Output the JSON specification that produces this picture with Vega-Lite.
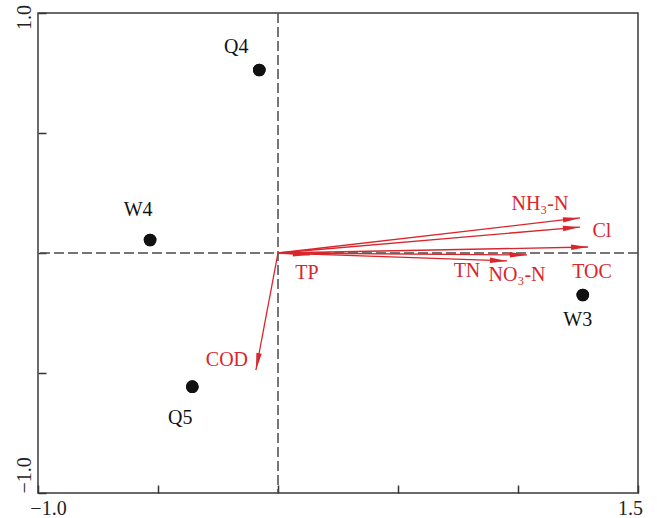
{
  "$schema": "https://vega.github.io/schema/vega-lite/v6.json",
  "width": 600,
  "height": 480,
  "autosize": {"type": "none"},
  "padding": {"left": 38, "top": 13, "right": 19, "bottom": 25},
  "background": "white",
  "config": {
    "view": {"stroke": "#3a3a3a", "strokeWidth": 1.5},
    "font": "Liberation Serif"
  },
  "datasets": {
    "sites": [
      {"site": "Q4", "x": -0.078, "y": 0.7625},
      {"site": "W4", "x": -0.533, "y": 0.054},
      {"site": "Q5", "x": -0.357, "y": -0.557},
      {"site": "W3", "x": 1.27, "y": -0.175}
    ],
    "vars": [
      {"var": "NH₃-N", "x": 1.258, "y": 0.146},
      {"var": "Cl", "x": 1.258, "y": 0.108},
      {"var": "TOC", "x": 1.292, "y": 0.025},
      {"var": "NO₃-N", "x": 1.0375, "y": -0.008},
      {"var": "TN", "x": 0.954, "y": -0.033},
      {"var": "TP", "x": 0.133, "y": -0.008},
      {"var": "COD", "x": -0.092, "y": -0.4875}
    ],
    "origin": [{"ref": 0}]
  },
  "layer": [
    {
      "data": {"name": "sites"},
      "mark": {"type": "circle", "color": "#111", "size": 160, "opacity": 1},
      "encoding": {
        "x": {
          "field": "x", "type": "quantitative",
          "scale": {"domain": [-1, 1.5], "nice": false, "zero": false},
          "axis": {
            "values": [-1, -0.5, 0, 0.5, 1, 1.5],
            "format": ".1f",
            "labelExpr": "datum.value == -1 || datum.value == 1.5 ? datum.label : ''",
            "title": null, "domain": false, "grid": false,
            "tickSize": -8, "tickColor": "#333", "tickWidth": 1.5,
            "labelFont": "Liberation Serif", "labelFontSize": 20, "labelColor": "#222",
            "labelPadding": 13, "labelBaseline": "top", "labelAlign": "center",
            "labelOffset": {"condition": {"test": "datum.value < 0", "value": 10}, "value": -8}
          }
        },
        "y": {
          "field": "y", "type": "quantitative",
          "scale": {"domain": [-1, 1], "nice": false, "zero": false},
          "axis": {
            "values": [-1, -0.5, 0, 0.5, 1],
            "format": ".1f",
            "labelExpr": "datum.value == -1 || datum.value == 1 ? datum.label : ''",
            "title": null, "domain": false, "grid": false,
            "tickSize": -8, "tickColor": "#333", "tickWidth": 1.5,
            "labelFont": "Liberation Serif", "labelFontSize": 20, "labelColor": "#222",
            "labelAngle": 270, "labelPadding": 16, "labelBaseline": "alphabetic",
            "labelAlign": {"condition": {"test": "datum.value < 0", "value": "left"}, "value": "center"},
            "labelOffset": {"condition": {"test": "datum.value > 0", "value": 4}, "value": 0}
          }
        }
      }
    },
    {
      "data": {"name": "origin"},
      "mark": {"type": "rule", "color": "#4a4a4a", "strokeWidth": 1.5, "strokeDash": [10, 4]},
      "encoding": {"x": {"field": "ref", "type": "quantitative"}}
    },
    {
      "data": {"name": "origin"},
      "mark": {"type": "rule", "color": "#4a4a4a", "strokeWidth": 1.5, "strokeDash": [10, 4]},
      "encoding": {"y": {"field": "ref", "type": "quantitative"}}
    },
    {
      "data": {"name": "vars"},
      "mark": {"type": "rule", "color": "#d9262c", "strokeWidth": 1.3},
      "encoding": {
        "x": {"field": "x", "type": "quantitative"},
        "y": {"field": "y", "type": "quantitative"},
        "x2": {"datum": 0}, "y2": {"datum": 0}
      }
    },
    {
      "data": {"name": "vars"},
      "transform": [{"calculate": "-atan2(datum.y, datum.x) * 180 / PI", "as": "ang"}],
      "mark": {"type": "point", "shape": "M0,0L-2,-0.32L-2,0.32Z", "filled": true, "color": "#d9262c", "size": 289, "opacity": 1},
      "encoding": {
        "x": {"field": "x", "type": "quantitative"},
        "y": {"field": "y", "type": "quantitative"},
        "angle": {"field": "ang", "type": "quantitative", "scale": null}
      }
    },
    {
      "data": {"name": "sites"},
      "mark": {"type": "circle", "color": "#111", "size": 160, "opacity": 1},
      "encoding": {
        "x": {"field": "x", "type": "quantitative"},
        "y": {"field": "y", "type": "quantitative"}
      }
    },
    {"data": {"name": "sites"}, "transform": [{"filter": "datum.site == 'Q4'"}], "mark": {"type": "text", "font": "Liberation Serif", "fontSize": 20, "color": "#111", "dx": -23, "dy": -23, "baseline": "middle"}, "encoding": {"x": {"field": "x", "type": "quantitative"}, "y": {"field": "y", "type": "quantitative"}, "text": {"field": "site"}}},
    {"data": {"name": "sites"}, "transform": [{"filter": "datum.site == 'W4'"}], "mark": {"type": "text", "font": "Liberation Serif", "fontSize": 20, "color": "#111", "dx": -12, "dy": -30, "baseline": "middle"}, "encoding": {"x": {"field": "x", "type": "quantitative"}, "y": {"field": "y", "type": "quantitative"}, "text": {"field": "site"}}},
    {"data": {"name": "sites"}, "transform": [{"filter": "datum.site == 'Q5'"}], "mark": {"type": "text", "font": "Liberation Serif", "fontSize": 20, "color": "#111", "dx": -12, "dy": 31, "baseline": "middle"}, "encoding": {"x": {"field": "x", "type": "quantitative"}, "y": {"field": "y", "type": "quantitative"}, "text": {"field": "site"}}},
    {"data": {"name": "sites"}, "transform": [{"filter": "datum.site == 'W3'"}], "mark": {"type": "text", "font": "Liberation Serif", "fontSize": 20, "color": "#111", "dx": -5, "dy": 25, "baseline": "middle"}, "encoding": {"x": {"field": "x", "type": "quantitative"}, "y": {"field": "y", "type": "quantitative"}, "text": {"field": "site"}}},
    {"data": {"name": "vars"}, "transform": [{"filter": "datum.var == 'NH₃-N'"}], "mark": {"type": "text", "font": "Liberation Serif", "fontSize": 20, "color": "#d9262c", "dx": -40, "dy": -14, "baseline": "middle"}, "encoding": {"x": {"field": "x", "type": "quantitative"}, "y": {"field": "y", "type": "quantitative"}, "text": {"field": "var"}}},
    {"data": {"name": "vars"}, "transform": [{"filter": "datum.var == 'Cl'"}], "mark": {"type": "text", "font": "Liberation Serif", "fontSize": 20, "color": "#d9262c", "dx": 22, "dy": 4, "baseline": "middle"}, "encoding": {"x": {"field": "x", "type": "quantitative"}, "y": {"field": "y", "type": "quantitative"}, "text": {"field": "var"}}},
    {"data": {"name": "vars"}, "transform": [{"filter": "datum.var == 'TOC'"}], "mark": {"type": "text", "font": "Liberation Serif", "fontSize": 20, "color": "#d9262c", "dx": 4, "dy": 25, "baseline": "middle"}, "encoding": {"x": {"field": "x", "type": "quantitative"}, "y": {"field": "y", "type": "quantitative"}, "text": {"field": "var"}}},
    {"data": {"name": "vars"}, "transform": [{"filter": "datum.var == 'NO₃-N'"}], "mark": {"type": "text", "font": "Liberation Serif", "fontSize": 20, "color": "#d9262c", "dx": -10, "dy": 20, "baseline": "middle"}, "encoding": {"x": {"field": "x", "type": "quantitative"}, "y": {"field": "y", "type": "quantitative"}, "text": {"field": "var"}}},
    {"data": {"name": "vars"}, "transform": [{"filter": "datum.var == 'TN'"}], "mark": {"type": "text", "font": "Liberation Serif", "fontSize": 20, "color": "#d9262c", "dx": -40, "dy": 10, "baseline": "middle"}, "encoding": {"x": {"field": "x", "type": "quantitative"}, "y": {"field": "y", "type": "quantitative"}, "text": {"field": "var"}}},
    {"data": {"name": "vars"}, "transform": [{"filter": "datum.var == 'TP'"}], "mark": {"type": "text", "font": "Liberation Serif", "fontSize": 20, "color": "#d9262c", "dx": -3, "dy": 18, "baseline": "middle"}, "encoding": {"x": {"field": "x", "type": "quantitative"}, "y": {"field": "y", "type": "quantitative"}, "text": {"field": "var"}}},
    {"data": {"name": "vars"}, "transform": [{"filter": "datum.var == 'COD'"}], "mark": {"type": "text", "font": "Liberation Serif", "fontSize": 20, "color": "#d9262c", "dx": -29, "dy": -10, "baseline": "middle"}, "encoding": {"x": {"field": "x", "type": "quantitative"}, "y": {"field": "y", "type": "quantitative"}, "text": {"field": "var"}}}
  ]
}
